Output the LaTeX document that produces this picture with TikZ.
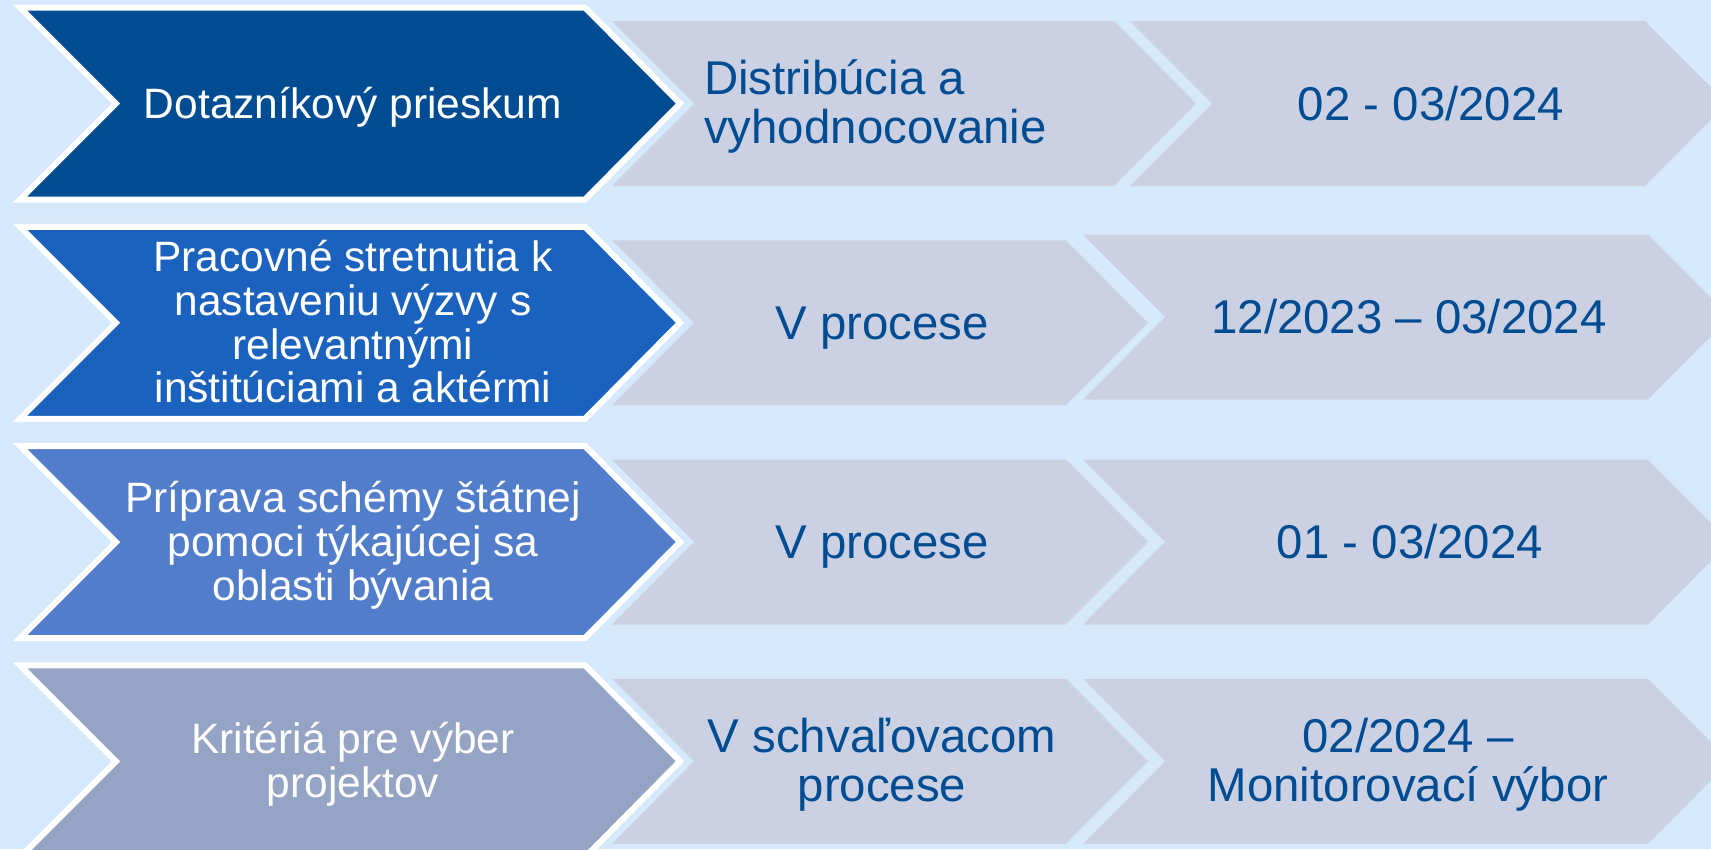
\documentclass[tikz,border=0pt]{standalone}
\usepackage{fontspec}
\setmainfont{Liberation Sans}

\definecolor{bgblue}{HTML}{D6E9FC}
\definecolor{chevgray}{HTML}{CBD1E2}
\definecolor{rowone}{HTML}{004C93}
\definecolor{rowtwo}{HTML}{1B62BE}
\definecolor{rowthree}{HTML}{527DCA}
\definecolor{rowfour}{HTML}{95A3C4}
\definecolor{textblue}{HTML}{004C93}

\newcommand\rowstrut{\vrule height 0.95em depth 0.234em width 0pt\relax}
\newcommand\stepfont{\fontsize{42.5pt}{43.8pt}\selectfont\lineskiplimit=-100pt\relax}
\newcommand\statefont{\fontsize{47.4pt}{49pt}\selectfont\lineskiplimit=-100pt\relax}

\tikzset{
	stepchev/.style={draw=white, line width=6pt, line join=miter},
	graychev/.style={fill=chevgray},
	steptext/.style={text=white, align=center, inner sep=0pt, font=\stepfont,
		execute at begin node=\rowstrut, execute at end node=\rowstrut},
	statetext/.style={text=textblue, align=center, inner sep=0pt, font=\statefont,
		execute at begin node=\rowstrut, execute at end node=\rowstrut}
}

\begin{document}
\begin{tikzpicture}[x=1pt, y=-1pt]
		\fill[bgblue] (0,0) rectangle (1711,849);
		\useasboundingbox (0,0) rectangle (1711,849);

		% row 1
		\fill[graychev] (612,21) -- ++(502,0) -- ++(82,82.5) -- ++(-82,82.5) -- ++(-502,0) -- ++(82,-82.5) -- cycle;
		\fill[graychev] (1130,21) -- ++(515,0) -- ++(82,82.5) -- ++(-82,82.5) -- ++(-515,0) -- ++(82,-82.5) -- cycle;
		\draw[stepchev, fill=rowone] (20,7.5) -- ++(565,0) -- ++(95,96) -- ++(-95,96) -- ++(-565,0) -- ++(96,-96) -- cycle;
		\node[steptext] (step1) at (353,103.5) {Dotazníkový prieskum};
		\node[statetext, align=left, anchor=west] (state1) at (704,107.5) {Distribúcia a\\vyhodnocovanie};
		\node[statetext] (date1) at (1431,103.5) {02 - 03/2024};

		% row 2
		\fill[graychev] (612,240.25) -- ++(454,0) -- ++(82,82.5) -- ++(-82,82.5) -- ++(-454,0) -- ++(82,-82.5) -- cycle;
		\fill[graychev] (1083,234.5) -- ++(565,0) -- ++(82,82.5) -- ++(-82,82.5) -- ++(-565,0) -- ++(82,-82.5) -- cycle;
		\draw[stepchev, fill=rowtwo] (20,226.75) -- ++(565,0) -- ++(95,96) -- ++(-95,96) -- ++(-565,0) -- ++(96,-96) -- cycle;
		\node[steptext] (step2) at (353,326.5) {Pracovné stretnutia k\\nastaveniu výzvy s\\relevantnými\\inštitúciami a aktérmi};
		\node[statetext] (state2) at (882,322.75) {V procese};
		\node[statetext] (date2) at (1409,317) {12/2023 – 03/2024};

		% row 3
		\fill[graychev] (612,459.5) -- ++(454,0) -- ++(82,82.5) -- ++(-82,82.5) -- ++(-454,0) -- ++(82,-82.5) -- cycle;
		\fill[graychev] (1083,459.5) -- ++(565,0) -- ++(82,82.5) -- ++(-82,82.5) -- ++(-565,0) -- ++(82,-82.5) -- cycle;
		\draw[stepchev, fill=rowthree] (20,446) -- ++(565,0) -- ++(95,96) -- ++(-95,96) -- ++(-565,0) -- ++(96,-96) -- cycle;
		\node[steptext] (step3) at (353,546) {Príprava schémy štátnej\\pomoci týkajúcej sa\\oblasti bývania};
		\node[statetext] (state3) at (882,542) {V procese};
		\node[statetext] (date3) at (1410,542) {01 - 03/2024};

		% row 4
		\fill[graychev] (612,678.75) -- ++(454,0) -- ++(82,82.5) -- ++(-82,82.5) -- ++(-454,0) -- ++(82,-82.5) -- cycle;
		\fill[graychev] (1083,678.75) -- ++(565,0) -- ++(82,82.5) -- ++(-82,82.5) -- ++(-565,0) -- ++(82,-82.5) -- cycle;
		\draw[stepchev, fill=rowfour] (20,665.25) -- ++(565,0) -- ++(95,96) -- ++(-95,96) -- ++(-565,0) -- ++(96,-96) -- cycle;
		\node[steptext] (step4) at (353,765) {Kritériá pre výber\\projektov};
		\node[statetext] (state4) at (882,765) {V schvaľovacom\\procese};
		\node[statetext] (date4) at (1408,765) {02/2024 –\\Monitorovací výbor};
	\end{tikzpicture}
\end{document}
